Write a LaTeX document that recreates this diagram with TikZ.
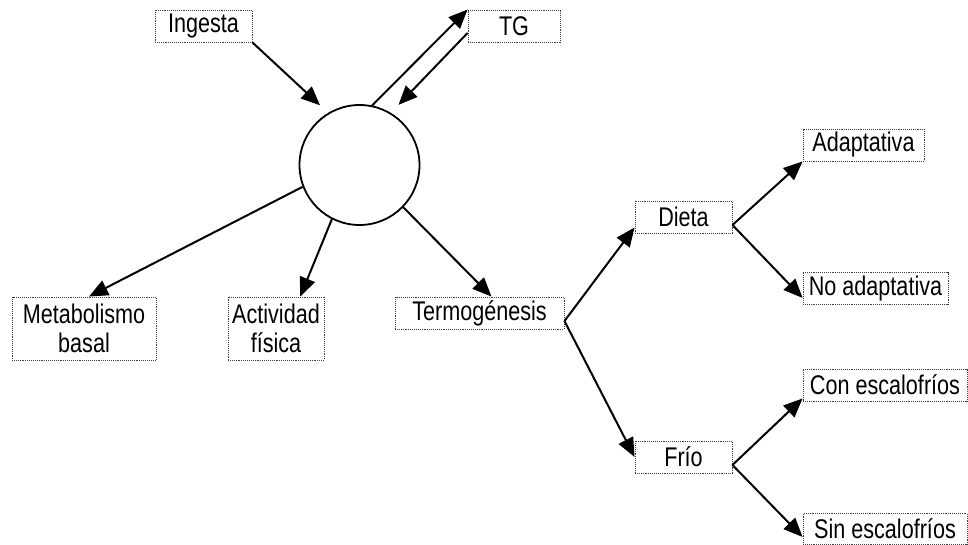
\documentclass[tikz,border=0pt]{standalone}
\usepackage{fontspec}
\setmainfont[FakeStretch=0.8]{Liberation Sans}
\usetikzlibrary{arrows.meta,calc}
\begin{document}
\begin{tikzpicture}[x=1pt,y=-1pt,
  box/.style={draw=black!75, densely dotted, line width=0.9pt, inner sep=0pt, minimum height=32pt,
    font=\fontsize{27}{29}\selectfont, align=center, text=black},
  conn/.style={line width=2pt, -{Triangle[length=19pt,width=16pt]}},
  ]
\useasboundingbox (0,0) rectangle (968,545);
\node[box, minimum width=97pt] (ing) at (203.5,26) {Ingesta};
\node[box, minimum width=92pt] (tg) at (514,26) {TG};
\node[draw, circle, line width=1.8pt, minimum size=120pt, inner sep=0pt] (c) at (359.5,165) {};
\node[box, minimum width=144pt, minimum height=63pt] (met) at (84,328.5) {Metabolismo\\basal};
\node[box, minimum width=96pt, minimum height=63pt] (act) at (276,328.5) {Actividad\\física};
\node[box, minimum width=169pt] (ter) at (479.5,313) {Termogénesis};
\node[box, minimum width=97pt] (die) at (683.5,217) {Dieta};
\node[box, minimum width=121pt] (ada) at (863.5,145) {Adaptativa};
\node[box, minimum width=145pt] (noa) at (875.5,288.5) {No adaptativa};
\node[box, minimum width=97pt] (fri) at (683.5,457) {Frío};
\node[box, minimum width=164pt] (con) at (885,385) {Con escalofríos};
\node[box, minimum width=164pt, minimum height=31pt] (sin) at (885,529) {Sin escalofríos};

\draw[conn, shorten >=11pt] (ing.south east) -- (c.121);
\draw[conn] (c.78) -- (tg.north west);
\draw[conn, shorten >=11pt] ([yshift=-7pt]tg.west) -- (c.59);
\draw[conn] (c.201) -- ([xshift=5pt]met.north);
\draw[conn] (c.243) -- ($(act.north)!.5!(act.north east)$);
\draw[conn] (c.316) -- ([xshift=12pt]ter.north);
\draw[conn] ([yshift=-8pt]ter.east) -- ([yshift=6pt]die.south west);
\draw[conn] ([yshift=-8pt]ter.east) -- (fri.west);
\draw[conn] ([yshift=-8pt]die.east) -- (ada.south west);
\draw[conn] ([yshift=-8pt]die.east) -- ([yshift=7pt]noa.south west);
\draw[conn] ([yshift=-8pt]fri.east) -- ([yshift=3pt]con.south west);
\draw[conn] ([yshift=-8pt]fri.east) -- ([yshift=8pt]sin.south west);
\end{tikzpicture}
\end{document}
